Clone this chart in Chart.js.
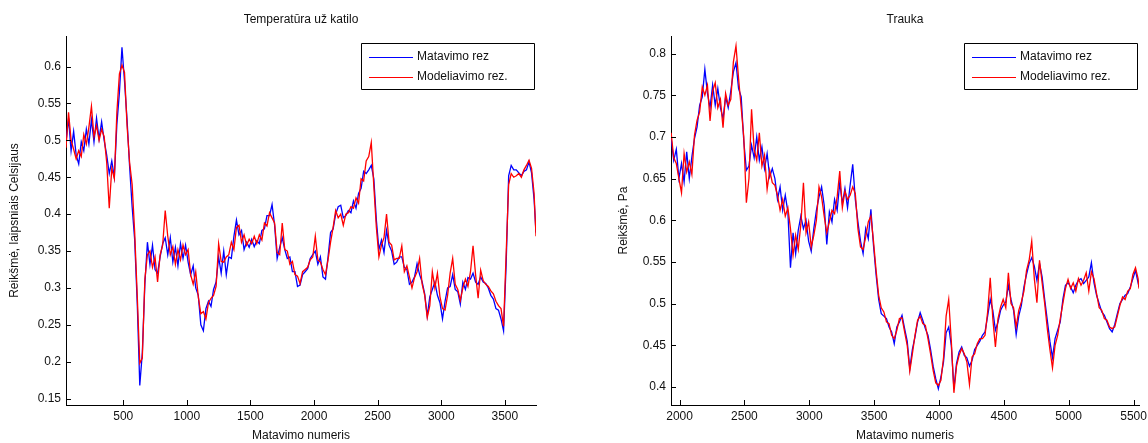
<!DOCTYPE html>
<html>
<head>
<meta charset="utf-8">
<script src="https://cdn.jsdelivr.net/npm/chart.js@4.4.0/dist/chart.umd.min.js"></script>
<style>
html,body{margin:0;padding:0;background:#fff;}
#wrap{position:relative;width:1148px;height:443px;overflow:hidden;background:#fff;}
canvas{position:absolute;top:0;}
#c1{left:0;}
#c2{left:574px;}
</style>
</head>
<body>
<div id="wrap">
<canvas id="c1" width="574" height="443"></canvas>
<canvas id="c2" width="574" height="443"></canvas>
</div>
<script>
// ---------- Left chart: Temperatūra už katilo ----------
const tempSamples = [
50,70,90,110,130,150,170,190,210,230,
250,270,290,310,330,350,370,390,410,430,
450,470,490,510,530,550,570,590,610,630,
650,670,690,710,730,750,770,790,810,830,
850,870,890,910,930,950,970,990,1010,1030,
1050,1070,1090,1110,1130,1150,1170,1190,1210,1230,
1250,1270,1290,1310,1330,1350,1370,1390,1410,1430,
1450,1470,1490,1510,1530,1550,1570,1590,1610,1630,
1650,1670,1690,1710,1730,1750,1770,1790,1810,1830,
1850,1870,1890,1910,1930,1950,1970,1990,2010,2030,
2050,2070,2090,2110,2130,2150,2170,2190,2210,2230,
2250,2270,2290,2310,2330,2350,2370,2390,2410,2430,
2450,2470,2490,2510,2530,2550,2570,2590,2610,2630,
2650,2670,2690,2710,2730,2750,2770,2790,2810,2830,
2850,2870,2890,2910,2930,2950,2970,2990,3010,3030,
3050,3070,3090,3110,3130,3150,3170,3190,3210,3230,
3250,3270,3290,3310,3330,3350,3370,3390,3410,3430,
3450,3470,3490,3510,3530,3550,3570,3590,3610,3630,
3650,3670,3690,3710,3730,3745];
const tempMeasured = [
.498,.530,.486,.512,.480,.468,.498,.486,.515,.495,
.528,.498,.530,.502,.525,.500,.480,.455,.472,.450,
.522,.565,.626,.580,.528,.465,.410,.365,.280,.168,
.212,.305,.362,.332,.358,.325,.320,.342,.360,.368,
.345,.368,.335,.355,.330,.360,.340,.358,.335,.318,
.330,.300,.290,.250,.242,.272,.282,.275,.298,.308,
.342,.320,.350,.318,.342,.340,.370,.392,.372,.378,
.352,.362,.355,.366,.356,.364,.360,.378,.380,.398,
.398,.413,.385,.340,.355,.368,.352,.340,.342,.322,
.322,.302,.304,.318,.322,.326,.340,.345,.350,.332,
.342,.315,.312,.342,.375,.380,.400,.410,.412,.395,
.398,.405,.402,.418,.408,.428,.435,.458,.455,.460,
.466,.448,.392,.352,.365,.348,.378,.358,.350,.332,
.335,.342,.342,.328,.325,.305,.308,.315,.333,.318,
.308,.292,.262,.288,.298,.308,.290,.280,.258,.282,
.300,.302,.318,.298,.295,.278,.308,.298,.314,.312,
.320,.308,.305,.315,.308,.306,.300,.290,.285,.272,
.270,.258,.242,.330,.452,.466,.460,.460,.456,.452,
.458,.460,.471,.456,.420,.375];
const tempModel = [
.490,.538,.500,.488,.475,.486,.478,.508,.495,.518,
.546,.505,.520,.500,.515,.505,.470,.408,.462,.448,
.538,.590,.602,.592,.520,.470,.440,.375,.290,.198,
.205,.312,.345,.350,.328,.342,.308,.345,.358,.405,
.370,.345,.356,.332,.352,.338,.358,.345,.352,.318,
.305,.322,.288,.265,.268,.258,.280,.286,.290,.302,
.360,.336,.335,.342,.345,.362,.352,.382,.385,.362,
.372,.358,.366,.360,.370,.360,.372,.365,.388,.384,
.402,.395,.388,.348,.345,.388,.352,.350,.332,.336,
.318,.316,.306,.322,.325,.328,.338,.342,.370,.338,
.335,.325,.318,.338,.362,.382,.405,.395,.400,.385,
.400,.402,.410,.408,.422,.415,.448,.445,.472,.478,
.497,.438,.382,.342,.358,.368,.400,.362,.358,.338,
.340,.340,.357,.322,.330,.315,.300,.314,.322,.340,
.305,.290,.260,.276,.322,.300,.320,.288,.272,.270,
.290,.320,.340,.305,.298,.283,.300,.312,.302,.322,
.357,.318,.286,.324,.310,.305,.302,.296,.292,.282,
.276,.272,.248,.345,.440,.455,.450,.452,.455,.450,
.460,.466,.473,.462,.428,.370];
const tempXTicks = [500,1000,1500,2000,2500,3000,3500];
const tempXTickLabels = ['500','1000','1500','2000','2500','3000','3500'];
const tempYTicks = [0.15,0.2,0.25,0.3,0.35,0.4,0.45,0.5,0.55,0.6];
const tempYTickLabels = ['0.15','0.2','0.25','0.3','0.35','0.4','0.45','0.5','0.55','0.6'];

// ---------- Right chart: Trauka ----------
const draftSamples = [
1935,1955,1975,1995,2015,2035,2055,2075,2095,2115,
2135,2155,2175,2195,2215,2235,2255,2275,2295,2315,
2335,2355,2375,2395,2415,2435,2455,2475,2495,2515,
2535,2555,2575,2595,2615,2635,2655,2675,2695,2715,
2735,2755,2775,2795,2815,2835,2855,2875,2895,2915,
2935,2955,2975,2995,3015,3035,3055,3075,3095,3115,
3135,3155,3175,3195,3215,3235,3255,3275,3295,3315,
3335,3355,3375,3395,3415,3435,3455,3475,3495,3515,
3535,3555,3575,3595,3615,3635,3655,3675,3695,3715,
3735,3755,3775,3795,3815,3835,3855,3875,3895,3915,
3935,3955,3975,3995,4015,4035,4055,4075,4095,4115,
4135,4155,4175,4195,4215,4235,4255,4275,4295,4315,
4335,4355,4375,4395,4415,4435,4455,4475,4495,4515,
4535,4555,4575,4595,4615,4635,4655,4675,4695,4715,
4735,4755,4775,4795,4815,4835,4855,4875,4895,4915,
4935,4955,4975,4995,5015,5035,5055,5075,5095,5115,
5135,5155,5175,5195,5215,5235,5255,5275,5295,5315,
5335,5355,5375,5395,5415,5435,5455,5475,5495,5515,
5535,5542];
const draftMeasured = [
.698,.672,.685,.650,.668,.646,.682,.650,.676,.698,
.712,.738,.748,.781,.752,.735,.762,.738,.758,.735,
.722,.748,.735,.755,.778,.789,.758,.748,.695,.660,
.665,.690,.675,.700,.672,.688,.662,.680,.652,.662,
.650,.625,.640,.612,.630,.610,.543,.585,.560,.588,
.605,.590,.600,.575,.563,.590,.612,.628,.640,.618,
.571,.610,.598,.625,.612,.645,.620,.638,.615,.642,
.667,.625,.598,.575,.560,.590,.578,.613,.570,.535,
.505,.488,.485,.482,.472,.466,.452,.472,.478,.486,
.470,.455,.422,.445,.460,.478,.489,.480,.470,.462,
.445,.425,.410,.398,.412,.430,.465,.472,.450,.398,
.428,.442,.448,.438,.435,.425,.432,.445,.450,.455,
.462,.466,.485,.505,.492,.468,.478,.492,.498,.502,
.522,.505,.492,.463,.485,.498,.520,.535,.548,.555,
.545,.528,.548,.532,.505,.480,.455,.435,.458,.468,
.478,.505,.522,.525,.520,.513,.522,.528,.530,.524,
.528,.532,.549,.525,.510,.500,.490,.486,.478,.470,
.466,.475,.488,.500,.505,.510,.512,.520,.530,.540,
.525,.520];
const draftModel = [
.705,.675,.668,.650,.633,.680,.658,.670,.655,.702,
.720,.730,.760,.750,.762,.719,.755,.765,.735,.745,
.711,.752,.738,.745,.790,.809,.770,.735,.700,.621,
.650,.733,.685,.672,.705,.665,.678,.637,.660,.645,
.642,.630,.612,.625,.605,.615,.590,.558,.582,.565,
.595,.645,.585,.598,.568,.582,.600,.640,.628,.605,
.585,.598,.612,.608,.628,.659,.615,.635,.625,.630,
.640,.632,.590,.568,.565,.580,.598,.605,.575,.540,
.510,.495,.490,.478,.476,.462,.458,.468,.482,.483,
.466,.450,.419,.440,.462,.480,.485,.476,.474,.458,
.440,.420,.405,.402,.408,.435,.485,.505,.455,.393,
.425,.438,.446,.440,.430,.403,.436,.440,.452,.458,
.458,.462,.490,.531,.482,.448,.482,.496,.505,.495,
.537,.500,.495,.472,.492,.502,.515,.540,.552,.575,
.530,.501,.552,.525,.500,.470,.445,.423,.450,.462,
.482,.500,.518,.529,.518,.525,.515,.530,.522,.528,
.537,.515,.538,.530,.512,.495,.492,.482,.480,.472,
.470,.472,.485,.498,.508,.505,.515,.518,.535,.543,
.530,.518];
const draftXTicks = [2000,2500,3000,3500,4000,4500,5000,5500];
const draftXTickLabels = ['2000','2500','3000','3500','4000','4500','5000','5500'];
const draftYTicks = [0.4,0.45,0.5,0.55,0.6,0.65,0.7,0.75,0.8];
const draftYTickLabels = ['0.4','0.45','0.5','0.55','0.6','0.65','0.7','0.75','0.8'];

const seriesNames = ['Matavimo rez', 'Modeliavimo rez.'];
const seriesColors = ['#0000ff', '#ff0000'];
const FONT = '"Liberation Sans", Arial, Helvetica, sans-serif';
const TEXT = '#111';

const matlabDecor = {
  id: 'matlabDecor',
  afterDatasetsDraw(chart) {
    const {ctx, chartArea: a, scales: {x, y}} = chart;
    ctx.save();
    ctx.strokeStyle = '#000';
    ctx.lineWidth = 1;
    ctx.beginPath();
    x.ticks.forEach(t => {
      const px = Math.round(x.getPixelForValue(t.value)) + 0.5;
      ctx.moveTo(px, a.bottom); ctx.lineTo(px, a.bottom - 5);
    });
    y.ticks.forEach(t => {
      const py = Math.round(y.getPixelForValue(t.value)) + 0.5;
      ctx.moveTo(a.left, py); ctx.lineTo(a.left + 5, py);
    });
    ctx.stroke();
    // legend box (inside, north-east)
    const w = 173, h = 46;
    const bx = Math.round(a.right - 2 - w), by = Math.round(a.top + 7);
    ctx.fillStyle = '#fff';
    ctx.fillRect(bx, by, w, h);
    ctx.beginPath();
    ctx.strokeStyle = '#000';
    ctx.rect(bx + 0.5, by + 0.5, w, h);
    ctx.stroke();
    ctx.font = '12px ' + FONT;
    ctx.textBaseline = 'middle';
    ctx.textAlign = 'left';
    chart.data.datasets.forEach((ds, i) => {
      const ly = by + 14 + i * 20;
      ctx.beginPath();
      ctx.strokeStyle = seriesColors[i];
      ctx.moveTo(bx + 8, ly + 0.5);
      ctx.lineTo(bx + 52, ly + 0.5);
      ctx.stroke();
      ctx.fillStyle = TEXT;
      ctx.fillText(ds.label, bx + 56, ly);
    });
    ctx.restore();
  }
};

function makeChart(id, o) {
  const pts = (xs, ys) => xs.map((v, i) => ({x: v, y: ys[i]}));
  return new Chart(document.getElementById(id), {
    type: 'line',
    data: {
      datasets: [
        {label: seriesNames[0], data: pts(o.xs, o.measured), borderColor: seriesColors[0], borderWidth: 1.3, pointRadius: 0, tension: 0, order: 2},
        {label: seriesNames[1], data: pts(o.xs, o.model), borderColor: seriesColors[1], borderWidth: 1.3, pointRadius: 0, tension: 0, order: 1}
      ]
    },
    options: {
      responsive: false,
      animation: false,
      devicePixelRatio: 1,
      events: [],
      layout: {padding: {left: 0, right: o.padRight, top: 0, bottom: 0}},
      plugins: {
        legend: {display: false},
        tooltip: {enabled: false},
        title: {display: true, text: o.title, fullSize: false, color: TEXT,
                font: {family: FONT, size: 12, weight: 'normal'}, padding: {top: 12.3, bottom: 9.3}}
      },
      scales: {
        x: {
          type: 'linear', min: o.xMin, max: o.xMax,
          afterBuildTicks: s => { s.ticks = o.xTicks.map(v => ({value: v})); },
          afterFit: s => { s.height = 38; s.paddingLeft = 0; s.paddingRight = 0; },
          ticks: {autoSkip: false, maxRotation: 0, padding: 4, color: TEXT,
                  font: {family: FONT, size: 12}, callback: (v, i) => o.xTickLabels[i]},
          grid: {display: false, drawTicks: false},
          border: {display: true, color: '#000', width: 1},
          title: {display: true, text: 'Matavimo numeris', color: TEXT,
                  font: {family: FONT, size: 12}, padding: {top: 0, bottom: 0}}
        },
        y: {
          type: 'linear', min: o.yMin, max: o.yMax,
          afterBuildTicks: s => { s.ticks = o.yTicks.map(v => ({value: v})); },
          afterFit: s => { s.width = o.yWidth; s.paddingTop = 0; s.paddingBottom = 0; },
          ticks: {autoSkip: false, padding: 5, color: TEXT,
                  font: {family: FONT, size: 12}, callback: (v, i) => o.yTickLabels[i]},
          grid: {display: false, drawTicks: false},
          border: {display: true, color: '#000', width: 1},
          title: {display: true, text: o.yTitle, color: TEXT,
                  font: {family: FONT, size: 12}, padding: {top: o.yTitlePad, bottom: 0}}
        }
      }
    },
    plugins: [matlabDecor]
  });
}

makeChart('c1', {
  title: 'Temperatūra už katilo', yTitle: 'Reikšmė, laipsniais Celsijaus',
  xs: tempSamples, measured: tempMeasured, model: tempModel,
  xMin: 50, xMax: 3745, yMin: 0.1414, yMax: 0.6414,
  xTicks: tempXTicks, xTickLabels: tempXTickLabels,
  yTicks: tempYTicks, yTickLabels: tempYTickLabels,
  yWidth: 66, yTitlePad: 7.8, padRight: 38
});
makeChart('c2', {
  title: 'Trauka', yTitle: 'Reikšmė, Pa',
  xs: draftSamples, measured: draftMeasured, model: draftModel,
  xMin: 1934, xMax: 5542, yMin: 0.3784, yMax: 0.821,
  xTicks: draftXTicks, xTickLabels: draftXTickLabels,
  yTicks: draftYTicks, yTickLabels: draftYTickLabels,
  yWidth: 97, yTitlePad: 42.4, padRight: 9
});
</script>
</body>
</html>
